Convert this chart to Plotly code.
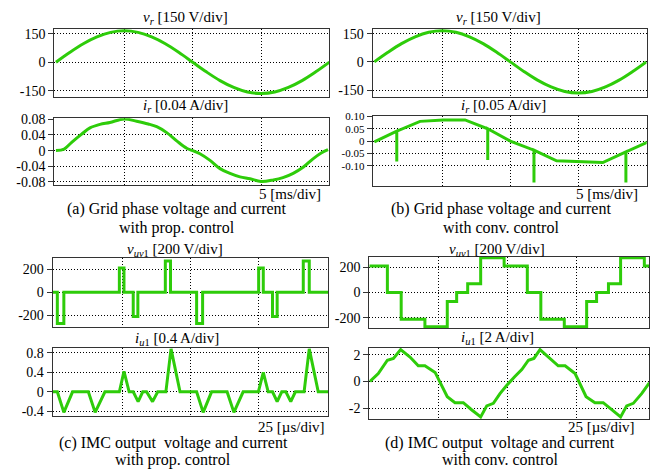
import plotly.graph_objects as go

W, H = 661, 474

# ---------------- data ----------------
# (a)/(b) top: grid phase voltage v_r [V], time in ms
t_vr_ms = [0, 1, 2, 3, 4, 5, 6, 7, 8, 9, 10, 11, 12, 13, 14, 15, 16, 17, 18, 19, 20]
v_r = [0, 51, 97, 133, 157, 165, 157, 133, 97, 51, 0, -51, -97, -133, -157, -165, -157, -133, -97, -51, 0]

# (a) bottom: grid current i_r with prop. control [A]
t_ia_ms = [0.0, 0.6, 1.15, 1.88, 2.49, 3.22, 3.95, 5.0, 5.9, 6.75, 7.37, 8.1, 8.83, 9.56, 10.0,
           10.53, 11.27, 12.0, 12.73, 13.46, 14.2, 15.0, 15.9, 16.6, 17.35, 18.1, 18.8, 19.4, 19.9]
i_a = [0.0, 0.004, 0.021, 0.042, 0.058, 0.067, 0.072, 0.081, 0.075, 0.068, 0.061, 0.046, 0.025, 0.006, 0.0,
       -0.008, -0.025, -0.046, -0.058, -0.067, -0.072, -0.079, -0.075, -0.069, -0.058, -0.042, -0.021, -0.006, 0.0025]

# (b) bottom: grid current i_r with conv. control [A] (with spikes)
t_ib_ms = [0, 1.65, 1.65, 1.65, 3.36, 5.07, 6.67, 8.34, 8.34, 8.34, 10.0, 11.74, 11.74, 11.74,
           13.4, 15.1, 16.8, 18.5, 18.5, 18.5, 20.15]
i_b = [-0.003, 0.04, -0.083, 0.04, 0.08, 0.086, 0.086, 0.05, -0.077, 0.05, 0.0, -0.037, -0.168, -0.037,
       -0.08, -0.083, -0.087, -0.044, -0.168, -0.044, -0.003]

# (c) top: IMC output voltage v_uv1 with prop. control [V], time in us (step starts)
t_vc_us = [-0.7, 1.0, 3.4, 23.8, 25.5, 28.9, 30.6, 40.7, 42.6, 52.2, 54.4, 75.0, 76.7, 80.1, 81.8, 91.4, 93.6, 100.6]
v_c = [0, -270, 0, 210, 0, -210, 0, 270, 0, -270, 0, 210, 0, -210, 0, 270, 0, 0]

# (c) bottom: IMC output current i_u1 with prop. control [A]
t_ic_us = [-0.7, 1.0, 3.4, 6.6, 12.4, 14.9, 18.5, 23.8, 25.5, 27.4, 28.9, 30.7, 32.4, 33.8, 36.0, 37.9,
           40.9, 42.8, 46.1, 52.2, 54.6, 57.7, 63.4, 65.9, 69.3, 74.9, 76.7, 78.5, 80.1, 81.8, 83.5,
           85.0, 86.8, 88.5, 91.7, 93.6, 96.9, 100.6]
i_c = [0, 0, -0.42, 0, 0, -0.42, 0, 0, 0.42, 0, 0, -0.2, 0, 0, -0.2, 0,
       0, 0.88, 0, 0, -0.42, 0, 0, -0.42, 0, 0, 0.4, 0, 0, -0.2, 0,
       0, -0.2, 0, 0, 0.88, 0, 0]

# (d) top: IMC output voltage v_uv1 with conv. control [V] (step starts)
t_vd_us = [-0.15, 6.4, 11.4, 20.0, 28.1, 31.5, 35.5, 40.2, 48.7, 57.1, 62.0, 70.5, 78.6, 82.2, 86.5, 90.9, 99.5, 101.3]
v_d = [210, 0, -210, -270, -70, 0, 70, 275, 210, 0, -210, -270, -70, 0, 70, 275, 210, 210]

# (d) bottom: IMC output current i_u1 with conv. control [A]
t_id_us = [0.1, 3.1, 6.4, 8.6, 11.2, 14.6, 17.6, 20.0, 23.7, 28.1, 30.9, 33.9, 36.9, 40.2, 42.4, 44.8,
           47.2, 49.6, 52.6, 55.1, 57.5, 59.5, 61.7, 64.7, 68.3, 70.8, 74.4, 78.4, 81.6, 84.6, 87.7,
           90.9, 93.1, 95.5, 98.6, 101.3]
i_d = [0.0, 0.6, 1.6, 1.74, 2.4, 1.84, 1.18, 1.18, 0.68, -1.15, -1.6, -1.6, -2.13, -2.67, -1.84, -1.65,
       -0.91, -0.3, 0.37, 0.9, 1.6, 1.74, 2.4, 1.84, 1.18, 1.18, 0.6, -1.15, -1.6, -1.6, -2.13,
       -2.67, -1.84, -1.65, -0.9, -0.1]

# tick values / labels
yt_vr = [150, 0, -150]
yl_vr = ["150", "0", "-150"]
yt_ia = [0.08, 0.04, 0, -0.04, -0.08]
yl_ia = ["0.08", "0.04", "0", "-0.04", "-0.08"]
yt_ib = [0.10, 0.05, 0, -0.05, -0.10]
yl_ib = ["0.10", "0.05", "0", "-0.05", "-0.10"]
yt_v = [200, 0, -200]
yl_v = ["200", "0", "-200"]
yt_ic = [0.8, 0.4, 0, -0.4]
yl_ic = ["0.8", "0.4", "0", "-0.4"]
yt_id = [2, 0, -2]
yl_id = ["2", "0", "-2"]
xt_ms = [5, 10, 15]
xt_us = [25, 50, 75]

titles = {
    "a1": "<i>v<sub>r</sub></i> [150 V/div]",
    "a2": "<i>i<sub>r</sub></i> [0.04 A/div]",
    "b1": "<i>v<sub>r</sub></i> [150 V/div]",
    "b2": "<i>i<sub>r</sub></i> [0.05 A/div]",
    "c1": "<i>v<sub>uv</sub></i><sub>1</sub> [200 V/div]",
    "c2": "<i>i<sub>u</sub></i><sub>1</sub> [0.4 A/div]",
    "d1": "<i>v<sub>uv</sub></i><sub>1</sub> [200 V/div]",
    "d2": "<i>i<sub>u</sub></i><sub>1</sub> [2 A/div]",
}
captions = {
    "a": ["(a) Grid phase voltage and current", "with prop. control"],
    "b": ["(b) Grid phase voltage and current", "with conv. control"],
    "c": ["(c) IMC output  voltage and current", "with prop. control"],
    "d": ["(d) IMC output  voltage and current", "with conv. control"],
}
scale_ms = "5 [ms/div]"
scale_us = "25 [µs/div]"

# ---------------- layout / styling ----------------
GREEN = "#2ECC0A"
FONT = "Liberation Serif"
DOTS = "1px,2px"

# panel: key, data x, data y, shape, box px (x0,x1,y0,y1), xrange, yrange, yticks, ylabels, xticks, title pos, tick font
panels = [
    ("a1", t_vr_ms, v_r, "spline", (54.3, 329, 23.3, 93.3), [-0.12, 19.97], [-184, 176], yt_vr, yl_vr, xt_ms, (185, 12.5), 14),
    ("a2", t_ia_ms, i_a, "spline", (54.3, 329, 115, 183.3), [-0.12, 19.97], [-0.088, 0.0825], yt_ia, yl_ia, xt_ms, (185, 102), 14),
    ("b1", t_vr_ms, v_r, "spline", (372.7, 646.7, 23.3, 92.7), [-0.12, 20.03], [-184, 176], yt_vr, yl_vr, xt_ms, (498, 12.5), 14),
    ("b2", t_ib_ms, i_b, "linear", (372.7, 646.7, 112.3, 184), [-0.12, 20.03], [-0.181, 0.103], yt_ib, yl_ib, xt_ms, (503, 102), 11),
    ("c1", t_vc_us, v_c, "hv", (52.7, 328.3, 258.3, 329), [-0.7, 100.6], [-304, 293], yt_v, yl_v, xt_us, (175, 250), 14),
    ("c2", t_ic_us, i_c, "linear", (52.7, 328.3, 350, 420), [-0.7, 100.6], [-0.5, 0.9], yt_ic, yl_ic, xt_us, (177, 341), 14),
    ("d1", t_vd_us, v_d, "hv", (369.3, 649.3, 256.7, 330), [-0.15, 101.3], [-282, 282], yt_v, yl_v, xt_us, (497, 250), 14),
    ("d2", t_id_us, i_d, "linear", (369.3, 649.3, 350, 422.7), [-0.15, 101.3], [-2.82, 2.53], yt_id, yl_id, xt_us, (497, 340), 14),
]

fig = go.Figure()
layout = dict(
    width=W, height=H,
    margin=dict(l=0, r=0, t=0, b=0),
    paper_bgcolor="white", plot_bgcolor="white",
    showlegend=False,
    font=dict(family=FONT, size=14, color="black"),
)
annotations = []

for i, (key, xs, ys, shape, box, xr, yr, ytv, ytl, xtv, tpos, tfs) in enumerate(panels):
    n = "" if i == 0 else str(i + 1)
    x0, x1, y0, y1 = box
    fig.add_trace(go.Scatter(
        x=xs, y=ys, mode="lines",
        line=dict(color=GREEN, width=3, shape=shape),
        xaxis="x" + n, yaxis="y" + n, hoverinfo="skip",
    ))
    layout["xaxis" + n] = dict(
        domain=[x0 / W, x1 / W], range=xr, anchor="y" + n,
        showline=True, mirror=True, linecolor="#333", linewidth=1.2,
        tickmode="array", tickvals=xtv, showticklabels=False, ticks="",
        showgrid=True, gridcolor="#000", gridwidth=1, griddash=DOTS,
        zeroline=False, fixedrange=True,
    )
    layout["yaxis" + n] = dict(
        domain=[1 - y1 / H, 1 - y0 / H], range=yr, anchor="x" + n,
        showline=True, mirror=True, linecolor="#333", linewidth=1.2,
        tickmode="array", tickvals=ytv, ticktext=ytl,
        ticks="outside", ticklen=5, tickcolor="#333", tickwidth=1,
        tickfont=dict(family=FONT, size=tfs, color="black"),
        showgrid=True, gridcolor="#000", gridwidth=1, griddash=DOTS,
        zeroline=False, fixedrange=True,
    )
    annotations.append(dict(
        text=titles[key], x=tpos[0] / W, y=1 - tpos[1] / H,
        xref="paper", yref="paper", xanchor="center", yanchor="middle",
        showarrow=False, font=dict(family=FONT, size=15, color="black"),
    ))

# scale labels
for txt, xr_px, y_px in [(scale_ms, 323, 192), (scale_ms, 640, 192), (scale_us, 327, 431), (scale_us, 637, 431)]:
    annotations.append(dict(
        text=txt, x=xr_px / W, y=1 - y_px / H, xref="paper", yref="paper",
        xanchor="right", yanchor="middle", showarrow=False,
        font=dict(family=FONT, size=15, color="black"),
    ))

# captions
cap_pos = {"a": (177, 207.5, 227), "b": (501, 207.5, 227), "c": (173, 447.5, 464.5), "d": (500, 447.5, 464.5)}
for k, lines in captions.items():
    cx, ya, yb = cap_pos[k]
    for txt, yy in zip(lines, (ya, yb)):
        annotations.append(dict(
            text=txt, x=cx / W, y=1 - yy / H, xref="paper", yref="paper",
            xanchor="center", yanchor="middle", showarrow=False,
            font=dict(family=FONT, size=16, color="black"),
        ))

layout["annotations"] = annotations
fig.update_layout(**layout)
fig.write_html(
    "out.html",
    config={"displayModeBar": False},
    post_script="document.body.style.margin='0px';document.body.style.overflow='hidden';",
)
